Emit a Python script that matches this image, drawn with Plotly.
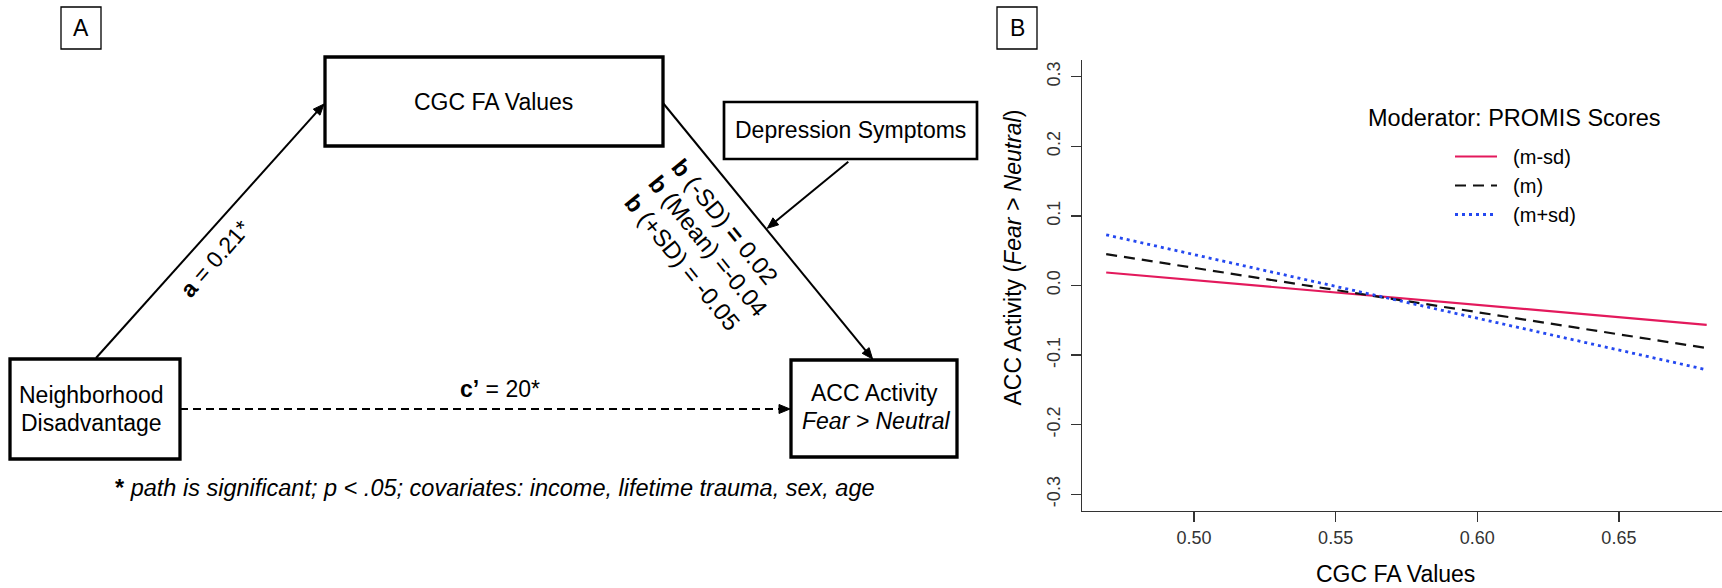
import math
import plotly.graph_objects as go

W, H = 1722, 588

# ---------------- Panel B data ----------------
cgc_fa = [0.469, 0.681]
acc_m_minus_sd = [0.0187, -0.0565]
acc_m = [0.0451, -0.0899]
acc_m_plus_sd = [0.0728, -0.1211]
series_names = ["(m-sd)", "(m)", "(m+sd)"]
x_tickvals = [0.50, 0.55, 0.60, 0.65]
x_ticktext = ["0.50", "0.55", "0.60", "0.65"]
y_tickvals = [-0.3, -0.2, -0.1, 0.0, 0.1, 0.2, 0.3]
y_ticktext = ["-0.3", "-0.2", "-0.1", "0.0", "0.1", "0.2", "0.3"]

# ---------------- Panel A path coefficients ----------------
coef_a = "0.21*"
coef_c = "20*"
coef_b = ["0.02", "-0.04", "-0.05"]

FONT = "Liberation Sans, Arial, Helvetica, sans-serif"
NBSP = "\u00a0"


def px(x):
    return x / W


def py(y):
    return 1 - y / H


fig = go.Figure()

fig.add_trace(go.Scatter(x=cgc_fa, y=acc_m_minus_sd, mode="lines", name=NBSP * 2 + series_names[0],
                         line=dict(color="#E3195C", width=2.2)))
fig.add_trace(go.Scatter(x=cgc_fa, y=acc_m, mode="lines", name=NBSP * 2 + series_names[1],
                         line=dict(color="#111111", width=2.2, dash="11px,7px")))
fig.add_trace(go.Scatter(x=cgc_fa, y=acc_m_plus_sd, mode="lines", name=NBSP * 2 + series_names[2],
                         line=dict(color="#2448F0", width=2.8, dash="3px,4px")))

shapes = []
annotations = []


def rect(x0, y0, x1, y1, lw):
    shapes.append(dict(type="rect", xref="paper", yref="paper",
                       x0=px(x0), x1=px(x1), y0=py(y1), y1=py(y0),
                       line=dict(color="black", width=lw), fillcolor="rgba(0,0,0,0)"))


def arrow(x0, y0, x1, y1, lw=2, dash=None, head_len=11, head_w=4.5):
    dx, dy = x1 - x0, y1 - y0
    L = math.hypot(dx, dy)
    ux, uy = dx / L, dy / L
    nx, ny = -uy, ux
    bx, by = x1 - head_len * ux, y1 - head_len * uy
    ln = dict(color="black", width=lw)
    if dash:
        ln["dash"] = dash
    shapes.append(dict(type="line", xref="paper", yref="paper",
                       x0=px(x0), y0=py(y0), x1=px(bx + 2 * ux), y1=py(by + 2 * uy), line=ln))
    p1 = (bx + head_w * nx, by + head_w * ny)
    p2 = (bx - head_w * nx, by - head_w * ny)
    path = "M {:.6f},{:.6f} L {:.6f},{:.6f} L {:.6f},{:.6f} Z".format(
        px(x1), py(y1), px(p1[0]), py(p1[1]), px(p2[0]), py(p2[1]))
    shapes.append(dict(type="path", xref="paper", yref="paper", path=path,
                       fillcolor="black", line=dict(color="black", width=1)))


def label(text, x, y, size=23, angle=0, color="black"):
    annotations.append(dict(text=text, x=px(x), y=py(y), xref="paper", yref="paper",
                            xanchor="center", yanchor="middle", showarrow=False,
                            textangle=angle, font=dict(family=FONT, size=size, color=color)))


# ---- Panel A diagram ----
rect(61, 7, 101, 49, 1.3)
label("A", 81, 28)
rect(997, 7, 1037, 49, 1.3)
label("B", 1017, 28)

rect(325, 57, 663, 146, 3.3)
label("CGC FA Values", 494, 101.5)
rect(724, 102, 977, 159, 2.7)
label("Depression Symptoms", 850.5, 130.5)
rect(10, 359, 180, 459, 3.3)
label("Neighborhood", 91, 395)
label("Disadvantage", 91, 423)
rect(791, 360, 957, 457, 3.3)
label("ACC Activity", 874, 393)
label("<i>Fear &gt; Neutral</i>", 876, 420.5)

arrow(96, 358, 324, 104)
arrow(663, 103, 872.6, 359)
arrow(848.3, 161.7, 767.3, 228.3)
arrow(180, 409, 790, 409, dash="8px,5px")

label("<b>a</b> = " + coef_a, 215, 259, angle=-49)
label("<b>b</b> (-SD) <b>=</b> " + coef_b[0], 725, 221, size=24, angle=51)
label("<b>b</b> (Mean) =" + coef_b[1], 708, 245.5, size=24, angle=51)
label("<b>b</b> (+SD) = " + coef_b[2], 682.5, 262.5, size=24, angle=51)
label("<b>c’</b> = " + coef_c, 499.5, 389)
label("<b>*</b><i> path is significant; p &lt; .05; covariates: income, lifetime trauma, sex, age</i>",
      495, 488, size=23.5)

# ---- Panel B texts ----
label("Moderator: PROMIS Scores", 1514, 118, size=23.5)
label("ACC Activity (<i>Fear &gt; Neutral</i>)", 1012, 257.5, angle=-90)
label("CGC FA Values", 1395, 574)

axis_col = "#333333"
fig.update_layout(
    width=W, height=H,
    margin=dict(l=0, r=0, t=0, b=0),
    paper_bgcolor="white", plot_bgcolor="white",
    font=dict(family=FONT, color="black"),
    shapes=shapes, annotations=annotations,
    showlegend=True, hovermode=False,
    legend=dict(x=px(1450), y=py(137), xanchor="left", yanchor="top",
                bgcolor="rgba(0,0,0,0)", borderwidth=0,
                font=dict(family=FONT, size=20, color="black"),
                itemwidth=42, tracegroupgap=0),
    xaxis=dict(domain=[px(1082.4), 1.0], range=[0.4606, 0.6864],
               showgrid=False, zeroline=False, showline=True,
               linecolor=axis_col, linewidth=1.3,
               ticks="outside", ticklen=10, tickwidth=1.3, tickcolor=axis_col,
               tickvals=x_tickvals, ticktext=x_ticktext,
               tickfont=dict(family=FONT, size=18, color=axis_col)),
    yaxis=dict(domain=[py(511), py(60)], range=[-0.324, 0.324],
               showgrid=False, zeroline=False, showline=True,
               linecolor=axis_col, linewidth=1.3,
               ticks="outside", ticklen=10, tickwidth=1.3, tickcolor=axis_col,
               tickvals=y_tickvals, ticktext=y_ticktext, tickangle=-90,
               ticklabelstandoff=4,
               tickfont=dict(family=FONT, size=18, color=axis_col)),
)

fig.write_html("out.html",
               config={"staticPlot": True, "displayModeBar": False},
               post_script="document.body.style.margin='0';document.body.style.overflow='hidden';")
